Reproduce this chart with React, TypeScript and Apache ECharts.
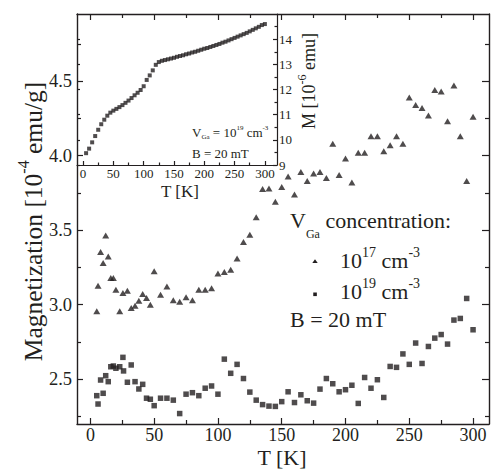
import React, { useEffect, useRef } from "react";
import * as echarts from "echarts";

// ---- main panel: V_Ga 10^17 cm^-3 (triangles) ----
const T_1E17 = [5, 6, 8, 10, 12, 14, 16, 18, 20, 23, 25.5, 29, 32, 35, 38, 41, 44, 47, 50,
  55, 60, 65, 70, 75, 80, 85, 90, 95, 100, 105, 110, 115, 120, 125, 130, 135, 140, 145, 150,
  155, 160, 165, 170, 175, 180, 185, 190, 195, 200, 205, 210, 215, 220, 225, 230, 235, 240,
  245, 250, 255, 260, 265, 270, 275, 280, 285, 290, 295, 300];
const M_1E17 = [2.956, 3.127, 3.353, 3.28, 3.465, 3.324, 3.18, 3.18, 3.1, 2.956, 3.078, 3.094,
  2.978, 2.993, 3.027, 3.072, 3.045, 3.0, 3.224, 3.067, 3.123, 3.03, 3.02, 3.05, 3.03, 3.1,
  3.1, 3.11, 3.21, 3.22, 3.235, 3.31, 3.42, 3.47, 3.586, 3.776, 3.78, 3.69, 3.79, 3.86, 3.74,
  3.89, 3.83, 3.88, 3.89, 3.85, 4.08, 3.87, 3.98, 3.82, 4.02, 4.02, 4.13, 4.13, 4.03, 4.07,
  4.13, 4.08, 4.39, 4.34, 4.32, 4.27, 4.44, 4.43, 4.23, 4.47, 4.13, 3.83, 4.26];

// ---- main panel: V_Ga 10^19 cm^-3 (squares) ----
const T_1E19 = [5, 6, 8, 10, 12, 14, 16, 18, 20, 23, 25.5, 26, 29, 32, 35, 38, 41, 44, 47, 50,
  55, 60, 65, 70, 75, 80, 85, 90, 95, 100, 105, 110, 115, 120, 125, 130, 135, 140, 145, 150,
  155, 160, 165, 170, 175, 180, 185, 190, 195, 200, 205, 210, 215, 220, 225, 230, 235, 240,
  245, 250, 255, 260, 265, 270, 275, 280, 285, 290, 295, 300];
const M_1E19 = [2.39, 2.334, 2.495, 2.406, 2.524, 2.484, 2.584, 2.589, 2.574, 2.584, 2.647,
  2.556, 2.48, 2.596, 2.484, 2.435, 2.466, 2.373, 2.366, 2.323, 2.373, 2.373, 2.36, 2.27, 2.4,
  2.41, 2.39, 2.44, 2.455, 2.4, 2.635, 2.54, 2.6, 2.505, 2.414, 2.36, 2.33, 2.32, 2.318, 2.35,
  2.416, 2.344, 2.396, 2.356, 2.34, 2.434, 2.505, 2.47, 2.416, 2.43, 2.46, 2.338, 2.512, 2.44,
  2.497, 2.378, 2.586, 2.58, 2.67, 2.6, 2.743, 2.606, 2.72, 2.776, 2.8, 2.736, 2.897, 2.908,
  3.042, 2.832];

// ---- inset: M [10^-6 emu] vs T, 10^19 cm^-3 ----
const T_INSET = [5, 10, 15, 20, 25, 30, 35, 40, 45, 50, 55, 60, 65, 70, 75, 80, 85, 90, 95,
  100, 105, 110, 115, 120, 125, 130, 135, 140, 145, 150, 155, 160, 165, 170, 175, 180, 185,
  190, 195, 200, 205, 210, 215, 220, 225, 230, 235, 240, 245, 250, 255, 260, 265, 270, 275,
  280, 285, 290, 295, 300];
const M_INSET = [9.47, 9.65, 9.9, 10.15, 10.4, 10.62, 10.8, 10.96, 11.08, 11.16, 11.23, 11.3,
  11.38, 11.47, 11.56, 11.66, 11.77, 11.87, 11.98, 12.13, 12.38, 12.56, 12.76, 12.98, 13.09,
  13.14, 13.17, 13.2, 13.23, 13.26, 13.3, 13.33, 13.36, 13.4, 13.43, 13.47, 13.5, 13.54,
  13.58, 13.62, 13.65, 13.69, 13.73, 13.77, 13.81, 13.86, 13.9, 13.95, 14.0, 14.05, 14.1,
  14.15, 14.2, 14.25, 14.31, 14.37, 14.43, 14.49, 14.56, 14.6];

// ---- ticks / labels ----
const MAIN_X_MAJOR = [0, 50, 100, 150, 200, 250, 300];
const MAIN_X_MINOR = [25, 75, 125, 175, 225, 275];
const MAIN_Y_MAJOR = [2.5, 3.0, 3.5, 4.0, 4.5];
const MAIN_Y_MINOR = [2.25, 2.75, 3.25, 3.75, 4.25, 4.75];
const INSET_X_MAJOR = [0, 50, 100, 150, 200, 250, 300];
const INSET_X_MINOR = [25, 75, 125, 175, 225, 275];
const INSET_Y_MAJOR = [9, 10, 11, 12, 13, 14];
const INSET_Y_MINOR = [9.5, 10.5, 11.5, 12.5, 13.5, 14.5];

const INK = "#231f20";
const FONT = "Liberation Serif, serif";

type AxOpt = {
  grid: number; pos: string; min: number; max: number; ticks: number[]; len: number;
  line: boolean; labels?: number[]; fs?: number; margin?: number;
  fmt?: (v: number) => string; lw?: number;
};

function axis(o: AxOpt) {
  const fmt = o.fmt || ((v: number) => String(v));
  return {
    type: "value",
    gridIndex: o.grid,
    position: o.pos,
    min: o.min,
    max: o.max,
    axisLine: { show: o.line, onZero: false, lineStyle: { color: INK, width: o.lw ?? 1.4 } },
    axisTick: {
      show: true, inside: true, length: o.len, customValues: o.ticks,
      lineStyle: { color: INK, width: 1.2 },
    },
    axisLabel: o.labels
      ? {
          show: true, customValues: o.labels, margin: o.margin,
          fontSize: o.fs, fontFamily: FONT, color: INK,
          formatter: (v: number) => fmt(v),
        }
      : { show: false },
    splitLine: { show: false },
  };
}

const richN = (fs: number, va: string, pad: number[]) => ({
  fontSize: fs, fontFamily: FONT, fill: INK, verticalAlign: va, padding: pad,
});

const CSS = `.mag-chart svg text, .mag-chart svg tspan { font-family: "Liberation Serif", serif !important; }`;

export default function App() {
  const ref = useRef<HTMLDivElement>(null);
  useEffect(() => {
    if (!ref.current) return;
    const chart = echarts.init(ref.current, undefined, { renderer: "svg" });
    const mx = { min: -10.5, max: 312.5 };
    const my = { min: 2.2, max: 4.95 };
    const ix = { min: -10, max: 320 };
    const iy = { min: 9, max: 15 };
    chart.setOption({
      animation: false,
      backgroundColor: "#ffffff",
      textStyle: { fontFamily: FONT },
      grid: [
        { left: 77, top: 14, width: 412, height: 410, show: false },
        { left: 77, top: 14, width: 200, height: 151, show: false },
      ],
      xAxis: [
        axis({ grid: 0, pos: "bottom", ...mx, ticks: MAIN_X_MAJOR, len: 6, line: true,
          labels: MAIN_X_MAJOR, fs: 18, margin: 2 }),
        axis({ grid: 0, pos: "bottom", ...mx, ticks: MAIN_X_MINOR, len: 4, line: false }),
        axis({ grid: 0, pos: "top", ...mx, ticks: MAIN_X_MAJOR, len: 6, line: true }),
        axis({ grid: 0, pos: "top", ...mx, ticks: MAIN_X_MINOR, len: 4, line: false }),
        axis({ grid: 1, pos: "bottom", ...ix, ticks: INSET_X_MAJOR, len: 4, line: true,
          labels: INSET_X_MAJOR, fs: 13, margin: 2, lw: 1.2 }),
        axis({ grid: 1, pos: "bottom", ...ix, ticks: INSET_X_MINOR, len: 2.5, line: false }),
      ],
      yAxis: [
        axis({ grid: 0, pos: "left", ...my, ticks: MAIN_Y_MAJOR, len: 6, line: true,
          labels: MAIN_Y_MAJOR, fs: 18.5, margin: 5, fmt: (v: number) => v.toFixed(1) }),
        axis({ grid: 0, pos: "left", ...my, ticks: MAIN_Y_MINOR, len: 4, line: false }),
        axis({ grid: 0, pos: "right", ...my, ticks: MAIN_Y_MAJOR, len: 7, line: true }),
        axis({ grid: 0, pos: "right", ...my, ticks: MAIN_Y_MINOR, len: 4, line: false }),
        axis({ grid: 1, pos: "right", ...iy, ticks: INSET_Y_MAJOR, len: 4, line: true,
          labels: INSET_Y_MAJOR, fs: 13, margin: 2, lw: 1.2 }),
        axis({ grid: 1, pos: "right", ...iy, ticks: INSET_Y_MINOR, len: 2.5, line: false }),
        axis({ grid: 1, pos: "left", ...iy, ticks: INSET_Y_MAJOR, len: 3, line: false }),
      ],
      series: [
        {
          type: "scatter", xAxisIndex: 0, yAxisIndex: 0, symbol: "triangle",
          symbolSize: [7, 6], itemStyle: { color: INK }, silent: true,
          data: T_1E17.map((t, i) => [t, M_1E17[i]]),
        },
        {
          type: "scatter", xAxisIndex: 0, yAxisIndex: 0, symbol: "rect",
          symbolSize: 5.5, itemStyle: { color: INK }, silent: true,
          data: T_1E19.map((t, i) => [t, M_1E19[i]]),
        },
        {
          type: "scatter", xAxisIndex: 4, yAxisIndex: 4, symbol: "rect",
          symbolSize: 4, itemStyle: { color: INK }, silent: true,
          data: T_INSET.map((t, i) => [t, M_INSET[i]]),
        },
      ],
      graphic: [
        // main axis titles
        {
          type: "text", x: 31, y: 221.5, rotation: Math.PI / 2,
          style: {
            text: "{n|Magnetization [10}{s|-4}{n| emu/g]}",
            align: "center", verticalAlign: "middle", fill: INK,
            rich: { n: richN(25.5, "bottom", [5, 0, 0, 0]), s: richN(16, "top", [0, 0, 0, 0]) },
          },
        },
        {
          type: "text", x: 282, y: 457.5,
          style: { text: "T [K]", align: "center", verticalAlign: "middle", fill: INK,
            fontSize: 22, fontFamily: FONT },
        },
        // legend
        {
          type: "text", x: 290, y: 209.5,
          style: {
            text: "{n|V}{b|Ga}{n| concentration:}", align: "left", verticalAlign: "top", fill: INK,
            rich: { n: richN(22, "top", [0, 0, 0, 0]), b: richN(12, "bottom", [18, 0, 0, 0]) },
          },
        },
        {
          type: "polygon",
          shape: { points: [[312.3, 262.9], [317.7, 262.9], [315, 259.2]] },
          style: { fill: INK },
        },
        {
          type: "text", x: 340, y: 245.5,
          style: {
            text: "{n|10}{s|17}{n| cm}{s|-3}", align: "left", verticalAlign: "top", fill: INK,
            rich: { n: richN(22, "bottom", [4, 0, 0, 0]), s: richN(14, "top", [0, 0, 0, 0]) },
          },
        },
        {
          type: "rect", shape: { x: 313.25, y: 292.5, width: 3.6, height: 3.6 },
          style: { fill: INK },
        },
        {
          type: "text", x: 340, y: 276.5,
          style: {
            text: "{n|10}{s|19}{n| cm}{s|-3}", align: "left", verticalAlign: "top", fill: INK,
            rich: { n: richN(22, "bottom", [4, 0, 0, 0]), s: richN(14, "top", [0, 0, 0, 0]) },
          },
        },
        {
          type: "text", x: 290, y: 319.5,
          style: { text: "B = 20 mT", align: "left", verticalAlign: "middle", fill: INK,
            fontSize: 22, fontFamily: FONT },
        },
        // inset titles & annotation
        {
          type: "text", x: 180, y: 191,
          style: { text: "T [K]", align: "center", verticalAlign: "middle", fill: INK,
            fontSize: 17, fontFamily: FONT },
        },
        {
          type: "text", x: 307, y: 81, rotation: Math.PI / 2,
          style: {
            text: "{n|M [10}{s|-6}{n| emu]}", align: "center", verticalAlign: "middle", fill: INK,
            rich: { n: richN(18, "bottom", [4, 0, 0, 0]), s: richN(12, "top", [0, 0, 0, 0]) },
          },
        },
        {
          type: "text", x: 192, y: 124.6,
          style: {
            text: "{n|V}{b|Ga}{n| = 10}{s|19}{n| cm}{s|-3}", align: "left", verticalAlign: "top",
            fill: INK,
            rich: {
              n: richN(13, "middle", [1, 0, 2, 0]),
              s: richN(7, "top", [0, 0, 0, 0]),
              b: richN(7, "bottom", [0, 0, 0, 0]),
            },
          },
        },
        {
          type: "text", x: 192, y: 153.6,
          style: { text: "B = 20 mT", align: "left", verticalAlign: "middle", fill: INK,
            fontSize: 13, fontFamily: FONT },
        },
      ],
    });
    return () => chart.dispose();
  }, []);
  return (
    <>
      <style>{CSS}</style>
      <div
        ref={ref}
        className="mag-chart"
        style={{ position: "absolute", left: 0, top: 0, width: 491, height: 470, background: "#fff" }}
      />
    </>
  );
}
